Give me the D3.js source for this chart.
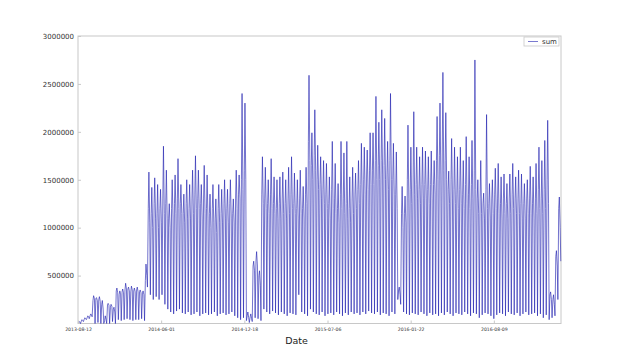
<!DOCTYPE html>
<html>
<head>
<meta charset="utf-8">
<script src="https://cdn.jsdelivr.net/npm/d3@7"></script>
<style>
body { margin: 0; background: #fff; }
text { font-family: "DejaVu Sans", sans-serif; }
</style>
</head>
<body>
<svg></svg>
<script>
// weekly readings (thousands): start-of-week level, weekday peak, late-week level, weekend low
let monVals = [10, 25, 45, 60, 80, 240, 260, 250, 200, 30,
  200, 170, 150, 340, 300, 330, 350, 360, 330, 340,
  350, 330, 320, 450, 1200, 1150, 1250, 1150, 1200, 1300,
  1250, 1100, 1200, 1250, 1300, 1250, 1150, 1250, 1200, 1300,
  1350, 1300, 1250, 1300, 1200, 1150, 1200, 1100, 1200, 1150,
  1250, 1200, 1250, 1150, 1300, 1350, 1500, 1600, 80, 70,
  600, 650, 500, 1350, 1300, 1250, 1350, 1250, 1200, 1250,
  1300, 1250, 1300, 1350, 1250, 1200, 1300, 1200, 1350, 1900,
  1650, 1750, 1500, 1450, 1400, 1350, 1250, 1400, 1300, 1200,
  1350, 1300, 1250, 1200, 1300, 1350, 1400, 1450, 1500, 1550,
  1600, 1600, 1700, 1650, 1700, 1650, 1550, 1700, 1500, 1350,
  350, 1150, 1150, 1500, 1400, 1550, 1450, 1400, 1450, 1450,
  1400, 1450, 1450, 1700, 1750, 1800, 1700, 1400, 1500, 1400,
  1350, 1400, 1350, 1450, 1350, 1450, 1600, 1300, 1300, 1250,
  1400, 1250, 1300, 1350, 1300, 1250, 1300, 1250, 1300, 1350,
  1300, 1300, 1250, 1250, 1300, 1300, 1250, 1300, 1400, 1300,
  1400, 1500, 300, 250, 700, 1200]
let peakVals = [20, 40, 60, 80, 100, 290, 270, 280, 240, 80,
  210, 200, 170, 370, 340, 360, 420, 380, 390, 370,
  380, 350, 340, 620, 1580, 1420, 1520, 1450, 1400, 1850,
  1600, 1250, 1500, 1550, 1720, 1450, 1350, 1500, 1450, 1600,
  1750, 1600, 1450, 1650, 1550, 1350, 1450, 1300, 1450, 1400,
  1500, 1400, 1500, 1300, 1600, 1550, 2400, 2300, 120, 100,
  650, 750, 550, 1740, 1630, 1500, 1720, 1530, 1500, 1530,
  1580, 1500, 1630, 1740, 1570, 1500, 1600, 1430, 1630, 2590,
  1990, 2230, 1860, 1740, 1700, 1670, 1530, 1900, 1670, 1460,
  1900, 1780, 1900, 1530, 1630, 1570, 1700, 1880, 1840, 1810,
  1990, 1990, 2370, 2100, 2230, 2140, 1900, 2400, 1880, 1790,
  380, 1430, 1330, 2070, 1840, 2210, 1840, 1740, 1840, 1800,
  1740, 1800, 1700, 2160, 2300, 2620, 2200, 1590, 1930, 1840,
  1740, 1840, 1700, 1950, 1740, 1910, 2750, 1500, 1700, 1360,
  2180, 1460, 1500, 1620, 1670, 1530, 1560, 1460, 1560, 1670,
  1530, 1600, 1560, 1460, 1500, 1640, 1530, 1670, 1840, 1700,
  1910, 2120, 330, 300, 760, 1320]
let midVals = [15, 30, 50, 70, 90, 260, 240, 230, 150, 40,
  190, 180, 120, 320, 310, 320, 360, 340, 350, 330,
  330, 320, 300, 500, 1050, 1000, 1100, 1000, 1050, 1150,
  1100, 1000, 1100, 1150, 1200, 1150, 1050, 1100, 1100, 1150,
  1200, 1200, 1100, 1150, 1100, 1000, 1050, 950, 1050, 1050,
  1100, 1050, 1100, 1050, 1200, 1300, 1400, 1500, 60, 50,
  550, 600, 400, 1250, 1200, 1150, 1200, 1150, 1100, 1100,
  1150, 1100, 1150, 1200, 1150, 1100, 1150, 1100, 1250, 1700,
  1500, 1600, 1400, 1300, 1250, 1200, 1100, 1200, 1150, 1050,
  1200, 1150, 1100, 1050, 1150, 1200, 1250, 1300, 1350, 1400,
  1450, 1450, 1500, 1500, 1550, 1500, 1400, 1500, 1350, 1200,
  300, 1000, 1050, 1300, 1250, 1350, 1300, 1250, 1300, 1300,
  1250, 1300, 1350, 1500, 1550, 1600, 1500, 1250, 1300, 1250,
  1200, 1250, 1200, 1250, 1200, 1300, 1400, 1150, 1150, 1100,
  1200, 1100, 1150, 1200, 1150, 1100, 1150, 1100, 1150, 1200,
  1150, 1150, 1100, 1100, 1150, 1150, 1100, 1150, 1200, 1150,
  1200, 1250, 250, 200, 600, 1000]
let lowVals = [0, 20, 40, 50, 70, 0, 10, 0, 0, 0,
  0, 20, 0, 40, 30, 40, 50, 40, 30, 40,
  40, 50, 30, 380, 300, 250, 280, 250, 300, 200,
  150, 120, 100, 130, 150, 110, 100, 120, 90, 100,
  120, 80, 100, 110, 90, 100, 120, 80, 100, 110,
  90, 100, 120, 80, 60, 40, 60, 30, 10, 20,
  60, 50, 30, 150, 120, 100, 130, 110, 90, 120,
  100, 80, 110, 100, 90, 300, 120, 100, 80, 150,
  120, 100, 90, 120, 80, 100, 110, 90, 120, 100,
  80, 110, 90, 120, 100, 110, 90, 120, 100, 130,
  110, 100, 120, 90, 110, 100, 80, 120, 100, 250,
  200, 120, 100, 90, 110, 100, 90, 120, 100, 80,
  110, 90, 100, 80, 110, 90, 120, 100, 80, 110,
  100, 90, 120, 100, 80, 110, 100, 60, 90, 110,
  100, 80, 50, 90, 110, 100, 80, 120, 100, 90,
  110, 80, 100, 120, 90, 100, 110, 80, 100, 60,
  90, 40, 60, 80, 250, 650]
let tickIdx = [0, 200, 400, 600, 800, 1000]
let tickLabels = ['2013-08-12', '2014-06-01', '2014-12-18', '2015-07-06', '2016-01-22', '2016-08-09']
let yTicks = [500000, 1000000, 1500000, 2000000, 2500000, 3000000]

let width = 624
let height = 360
let padL = 78, padR = 561, padT = 36, padB = 323.5

let svg = d3.select('svg')
            .attr('width', width)
            .attr('height', height)

let series = []
peakVals.forEach((p, w) => {
    series.push({ i: 7 * w + 1, v: monVals[w] * 1000 })
    series.push({ i: 7 * w + 2.5, v: p * 1000 })
    series.push({ i: 7 * w + 4.5, v: midVals[w] * 1000 })
    series.push({ i: 7 * w + 6, v: lowVals[w] * 1000 })
})

let x = d3.scaleLinear().domain([0, 7 * peakVals.length - 0.5]).range([padL, padR])
let y = d3.scaleLinear().domain([0, 3000000]).range([padB, padT])

// frame
svg.append('rect')
    .attr('x', padL).attr('y', padT)
    .attr('width', padR - padL).attr('height', padB - padT)
    .attr('fill', 'none').attr('stroke', '#c8c8c8').attr('stroke-width', 1)

let line = d3.line()
    .x(d => x(d.i))
    .y(d => y(d.v))

svg.append('path')
    .datum(series)
    .attr('d', line)
    .attr('fill', 'none')
    .attr('stroke', '#2020b0')
    .attr('stroke-width', 0.7)
    .attr('stroke-opacity', 0.9)

let yAxis = d3.axisLeft(y)
    .tickValues(yTicks)
    .tickFormat(d3.format('d'))
    .tickSizeInner(-3)
    .tickSizeOuter(0)
    .tickPadding(4)

let gy = svg.append('g').attr('transform', `translate(${padL},0)`).call(yAxis)
gy.select('.domain').remove()
gy.selectAll('line').attr('stroke', '#c8c8c8')
gy.selectAll('text').attr('font-size', 7).attr('fill', '#333')

let xAxis = d3.axisBottom(x)
    .tickValues(tickIdx)
    .tickFormat((d, k) => tickLabels[k])
    .tickSizeInner(-3)
    .tickSizeOuter(0)
    .tickPadding(4)

let gx = svg.append('g').attr('transform', `translate(0,${padB})`).call(xAxis)
gx.select('.domain').remove()
gx.selectAll('line').attr('stroke', '#c8c8c8')
gx.selectAll('text').attr('font-size', 4.6).attr('fill', '#333')

svg.append('text')
    .attr('x', (padL + padR) / 2 - 23)
    .attr('y', 344)
    .attr('text-anchor', 'middle')
    .attr('font-size', 9.5)
    .attr('fill', '#222')
    .text('Date')

// legend
let lg = svg.append('g').attr('transform', 'translate(524,37)')
lg.append('rect')
    .attr('width', 35).attr('height', 9)
    .attr('fill', '#fff').attr('stroke', '#c8c8c8').attr('stroke-width', 0.8)
lg.append('line')
    .attr('x1', 4).attr('x2', 14).attr('y1', 4.5).attr('y2', 4.5)
    .attr('stroke', '#2020b0').attr('stroke-width', 0.6)
lg.append('text')
    .attr('x', 18).attr('y', 7.2)
    .attr('font-size', 7).attr('fill', '#333')
    .text('sum')
</script>
</body>
</html>
